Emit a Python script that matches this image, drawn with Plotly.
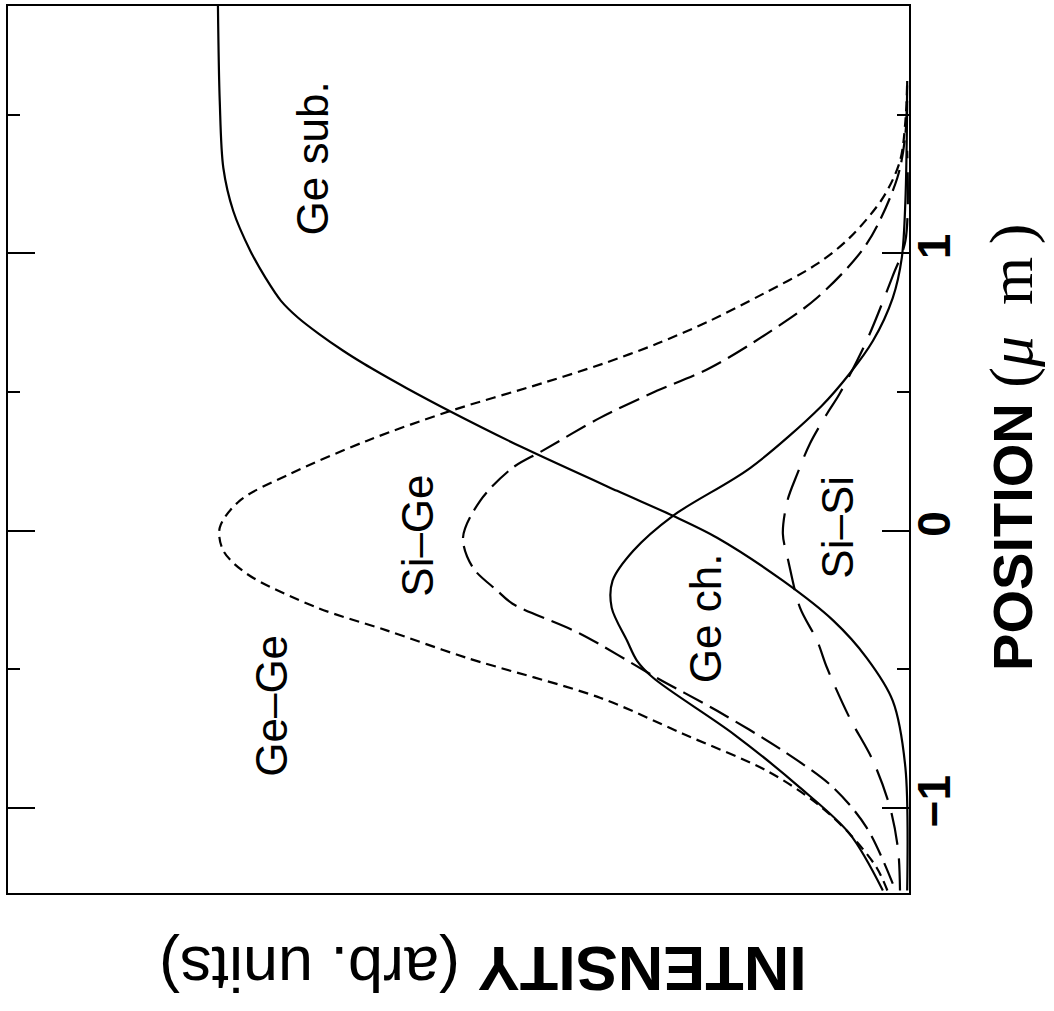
import plotly.graph_objects as go

# Intensity profiles (arb. units) versus position (µm)
ge_ge_pos = [-1.297, -1.214, -1.092, -0.984, -0.865, -0.732, -0.602, -0.458, -0.360, -0.277,
             -0.155, -0.072, 0.011, 0.108, 0.205, 0.324, 0.432, 0.533, 0.602, 0.674,
             0.757, 0.854, 0.962, 1.056, 1.200, 1.333, 1.477, 1.622]
ge_ge_int = [0.024, 0.036, 0.066, 0.102, 0.158, 0.251, 0.343, 0.491, 0.579, 0.657,
             0.735, 0.761, 0.765, 0.743, 0.687, 0.602, 0.509, 0.406, 0.340, 0.280,
             0.221, 0.162, 0.102, 0.066, 0.029, 0.010, 0.004, 0.002]

si_ge_pos = [-1.272, -1.070, -0.926, -0.793, -0.649, -0.530, -0.371, -0.263, -0.216, -0.133,
             -0.025, 0.108, 0.227, 0.288, 0.407, 0.494, 0.587, 0.710, 0.840, 1.034,
             1.272, 1.431, 1.622]
si_ge_int = [0.018, 0.047, 0.084, 0.140, 0.213, 0.280, 0.365, 0.440, 0.457, 0.484,
             0.495, 0.476, 0.440, 0.407, 0.343, 0.287, 0.221, 0.158, 0.102, 0.047,
             0.013, 0.004, 0.002]

ge_ch_pos = [-1.297, -1.092, -0.926, -0.732, -0.530, -0.468, -0.396, -0.277, -0.180, -0.072,
             0.054, 0.227, 0.450, 0.566, 0.685, 0.840, 0.984, 1.189, 1.550]
ge_ch_int = [0.029, 0.066, 0.121, 0.195, 0.284, 0.302, 0.313, 0.330, 0.329, 0.306,
             0.262, 0.176, 0.097, 0.066, 0.040, 0.018, 0.008, 0.004, 0.002]

si_si_pos = [-1.297, -1.153, -0.998, -0.829, -0.674, -0.494, -0.396, -0.277, -0.108, -0.011,
             0.108, 0.205, 0.314, 0.422, 0.494, 0.685, 0.919, 1.045, 1.370]
si_si_int = [0.010, 0.012, 0.021, 0.040, 0.066, 0.091, 0.102, 0.121, 0.134, 0.140,
             0.135, 0.124, 0.110, 0.091, 0.077, 0.047, 0.018, 0.004, 0.002]

ge_sub_pos = [1.895, 1.550, 1.308, 1.153, 1.009, 0.911, 0.829, 0.768, 0.710, 0.649,
              0.602, 0.566, 0.515, 0.432, 0.299, 0.144, 0.054, -0.025, -0.180, -0.324,
              -0.458, -0.613, -0.854, -1.297]
ge_sub_int = [0.767, 0.765, 0.761, 0.750, 0.731, 0.714, 0.697, 0.678, 0.655, 0.628,
              0.605, 0.586, 0.558, 0.510, 0.428, 0.324, 0.262, 0.213, 0.140, 0.084,
              0.047, 0.018, 0.004, 0.002]

tick_vals = [-1, 0, 1]
tick_text = ["\u22121", "0", "1"]
minor_vals = [-0.5, 0.5, 1.5]

FONT = "Liberation Sans, Arial, sans-serif"

fig = go.Figure()

def add_curve(xs, ys, dash):
    fig.add_trace(go.Scatter(
        x=xs, y=ys, mode="lines",
        line=dict(color="black", width=2.2, dash=dash, shape="spline", smoothing=0.9),
        hoverinfo="skip", showlegend=False))

add_curve(ge_sub_int, ge_sub_pos, "solid")
add_curve(ge_ge_int, ge_ge_pos, "10px,6px")
add_curve(si_ge_int, si_ge_pos, "22px,8px")
add_curve(ge_ch_int, ge_ch_pos, "solid")
add_curve(si_si_int, si_si_pos, "32px,14px")

# Curve labels, written sideways
labels = [
    ("Ge sub.", 0.661, 1.344),
    ("Ge\u2013Ge", 0.707, -0.631),
    ("Si\u2013Ge", 0.545, -0.018),
    ("Ge ch.", 0.226, -0.314),
    ("Si\u2013Si", 0.079, 0.014),
]
for text, xi, yi in labels:
    fig.add_annotation(x=xi, y=yi, xref="x", yref="y", text=text, textangle=-90,
                       showarrow=False, font=dict(family=FONT, size=44, color="black"))

# Axis titles
fig.add_annotation(
    x=1.155, y=0.502, xref="paper", yref="paper", textangle=-90, showarrow=False,
    text=("<b>POSITION</b> <span style='font-family:Liberation Serif;font-size:62px'>"
          "(<i>\u03bc</i>\u2002m\u2009)</span>"),
    font=dict(family=FONT, size=56, color="black"))
fig.add_annotation(
    x=0.527, y=-0.128, xref="paper", yref="paper", textangle=180, showarrow=False,
    text="<b>INTENSITY</b> (arb. units)",
    font=dict(family=FONT, size=63, color="black"))

fig.update_xaxes(
    range=[1.0, 0.0], showgrid=False, zeroline=False, showticklabels=False, ticks="",
    showline=True, linecolor="black", linewidth=2, mirror=True)
fig.update_yaxes(
    range=[-1.306, 1.892], side="right", showgrid=False, zeroline=False,
    showline=True, linecolor="black", linewidth=2, mirror="allticks",
    tickmode="array", tickvals=tick_vals, ticktext=tick_text,
    ticks="inside", ticklen=27, tickwidth=2, tickcolor="black",
    tickangle=-90, ticklabelstandoff=-16,
    tickfont=dict(family=FONT, size=46, color="black", weight="bold"),
    minor=dict(tickmode="array", tickvals=minor_vals, ticks="inside", ticklen=12,
               tickwidth=2, tickcolor="black", showgrid=False))

fig.update_layout(
    width=1054, height=1011,
    margin=dict(l=8, r=145, t=4, b=118),
    paper_bgcolor="white", plot_bgcolor="white",
    showlegend=False)

fig.write_html("out.html")
